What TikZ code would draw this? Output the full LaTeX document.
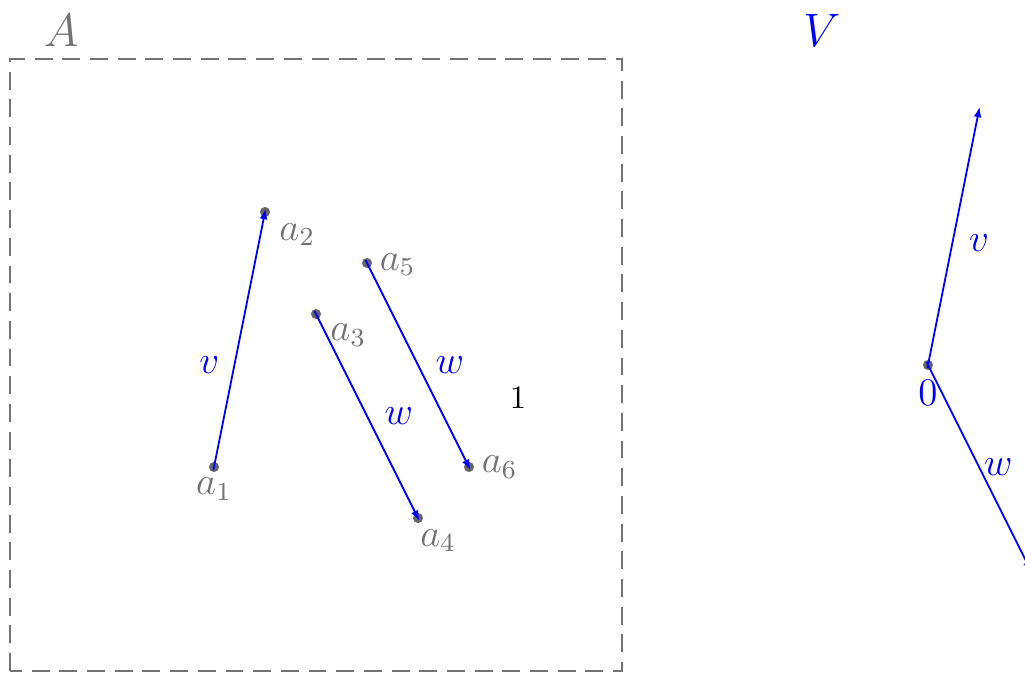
\documentclass[tikz,border=0pt]{standalone}
\usetikzlibrary{arrows.meta}
\begin{document}
\begin{tikzpicture}[x=15.66pt,y=15.66pt,
  pt/.style={circle,fill=black!60,inner sep=0pt,minimum size=3.1pt},
  lbl/.style={text=black!55,font=\large},
  vec/.style={blue,line width=0.55pt,-{Latex[length=3.2pt,width=2.4pt]},shorten >=-1pt,shorten <=-1pt},
  veclbl/.style={text=blue,font=\large}]
\useasboundingbox (-4.196,-4.04) rectangle (15.902,9.157);
\draw[black!55,line width=0.6pt,dash pattern=on 5.5pt off 3pt] (-4,-4) rectangle (8,8);
\node[text=black!55,font=\Large] (labA) at (-3,8.55) {$A$};
\node[text=blue,font=\Large] (labV) at (11.92,8.55) {$V$};
% points
\node[pt] (a1) at (0,0) {};
\node[pt] (a2) at (1,5) {};
\node[pt] (a3) at (2,3) {};
\node[pt] (a4) at (4,-1) {};
\node[pt] (a5) at (3,4) {};
\node[pt] (a6) at (5,0) {};
\node[pt] (o) at (14,2) {};
\coordinate (vend) at (15,7);
\coordinate (wend) at (16,-2);
% point labels
\node[lbl,anchor=north,inner sep=1pt] (la1) at ([yshift=-0.3pt]a1.south) {$a_1$};
\node[lbl,anchor=north west,inner sep=1pt] (la2) at ([xshift=2pt,yshift=-1pt]a2.south east) {$a_2$};
\node[lbl,anchor=north west,inner sep=1pt] (la3) at ([xshift=2pt,yshift=-0.5pt]a3.south east) {$a_3$};
\node[lbl,anchor=north west,inner sep=1pt] (la4) at ([xshift=-0.5pt,yshift=-0.5pt]a4.south) {$a_4$};
\node[lbl,anchor=west,inner sep=1pt] (la5) at ([xshift=1pt,yshift=-0.5pt]a5.east) {$a_5$};
\node[lbl,anchor=west,inner sep=1pt] (la6) at ([xshift=1pt]a6.east) {$a_6$};
\node[text=blue,font=\large,anchor=north] (lo) at ([yshift=0.5pt]o.south) {$0$};
\node (one) at (5.96,1.35) {$1$};
% vectors
\draw[vec] (a1.center) -- node[veclbl,left,pos=0.4,xshift=-1pt] {$v$} (a2.center);
\draw[vec] (a3.center) -- node[veclbl,right,pos=0.5,xshift=1.8pt] {$w$} (a4.center);
\draw[vec] (a5.center) -- node[veclbl,right,pos=0.5,xshift=1.8pt] {$w$} (a6.center);
\draw[vec] (o.center) -- node[veclbl,right,pos=0.48,xshift=1.5pt] {$v$} (vend);
\draw[vec] (o.center) -- node[veclbl,right,pos=0.5,xshift=-2pt] {$w$} (wend);
\end{tikzpicture}
\end{document}
